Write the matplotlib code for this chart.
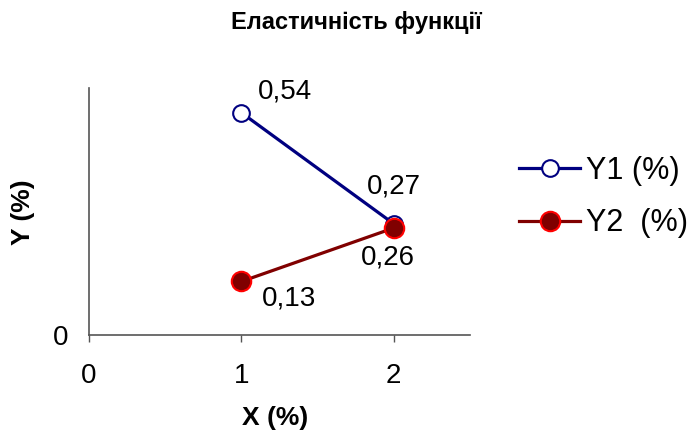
import matplotlib.pyplot as plt

plt.rcParams['font.family'] = ['Liberation Sans', 'DejaVu Sans']

x = [1, 2]
y1 = [0.54, 0.27]
y2 = [0.13, 0.26]
y1_labels = ['0,54', '0,27']
y2_labels = ['0,13', '0,26']

fig = plt.figure(figsize=(6.93, 4.32), dpi=100)
ax = fig.add_axes([89 / 693, 1 - 335 / 432, 381 / 693, 247 / 432])

ax.plot(x, y1, color='#000080', lw=2.3, marker='o', ms=12,
        mfc='white', mec='#000080', mew=1.5, label='Y1 (%)', zorder=3)
ax.plot(x, y2, color='#800000', lw=2.3, marker='o', ms=14,
        mfc='#800000', mec='#FF0000', mew=1.5, label='Y2  (%)', zorder=4)

# data labels
ax.annotate(y1_labels[0], (x[0], y1[0]), xytext=(12, 15), textcoords='offset points',
            ha='left', va='center', fontsize=20)
ax.annotate(y1_labels[1], (x[1], y1[1]), xytext=(0, 27), textcoords='offset points',
            ha='center', va='center', fontsize=20)
ax.annotate(y2_labels[0], (x[0], y2[0]), xytext=(15, -12), textcoords='offset points',
            ha='left', va='center', fontsize=20)
ax.annotate(y2_labels[1], (x[1], y2[1]), xytext=(-4, -21), textcoords='offset points',
            ha='center', va='center', fontsize=20)

ax.set_xlim(0, 2.5)
ax.set_ylim(0, 0.6)
ax.set_xticks([0, 1, 2])
ax.set_yticks([0])
ax.tick_params(axis='x', length=5, width=1, color='#555555', labelsize=20, pad=15)
ax.tick_params(axis='y', length=0, labelsize=20, pad=15)
for s in ['top', 'right']:
    ax.spines[s].set_visible(False)
for s in ['left', 'bottom']:
    ax.spines[s].set_color('#555555')
    ax.spines[s].set_linewidth(1.2)

fig.text(275 / 693, 1 - 418 / 432, 'X (%)', ha='center', va='center',
         fontsize=19, fontweight='bold')
fig.text(23 / 693, 1 - 212 / 432, 'Y (%)', ha='center', va='center',
         fontsize=19, fontweight='bold', rotation=90)
fig.text(356 / 693, 1 - 22 / 432, 'Еластичність функції', ha='center', va='center',
         fontsize=17, fontweight='bold')

fig.legend(loc='center left', bbox_to_anchor=(519 / 693, 1 - 197 / 432), frameon=False,
           fontsize=22, handlelength=2.0, handletextpad=0.2, labelspacing=0.75,
           borderpad=0, borderaxespad=0)

fig.savefig('out.png', dpi=100)
